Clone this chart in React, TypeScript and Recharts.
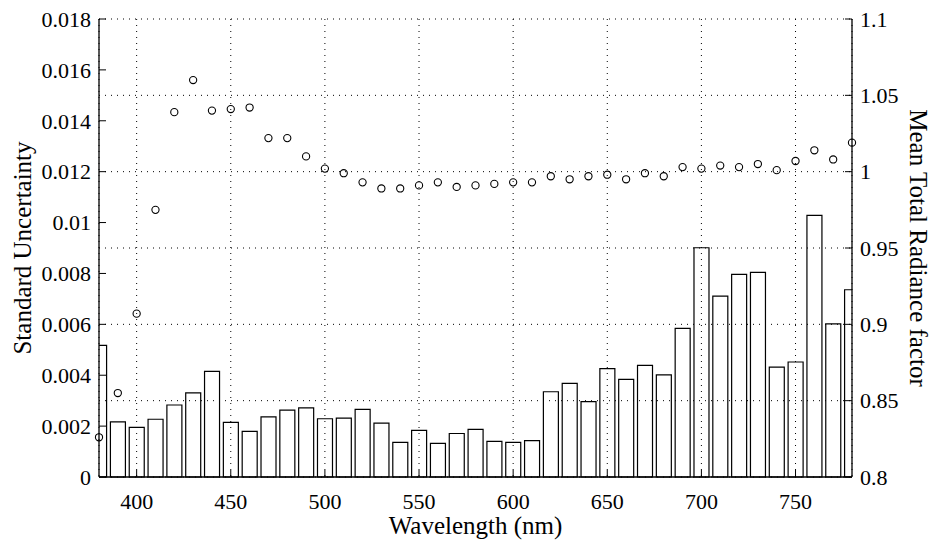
/**
 * Uncertainty chart - standard uncertainty bars + mean total radiance factor
 */

import { Bar, CartesianGrid, ComposedChart, Label, Line, XAxis, YAxis } from 'recharts';

document.body.style.margin = '0';

const wavelengths = [
  380, 390, 400, 410, 420, 430, 440, 450, 460, 470, 480, 490, 500, 510,
  520, 530, 540, 550, 560, 570, 580, 590, 600, 610, 620, 630, 640, 650,
  660, 670, 680, 690, 700, 710, 720, 730, 740, 750, 760, 770, 780,
];

const uncertainty = [
  0.00517, 0.00217, 0.00195, 0.00227, 0.00283, 0.00331, 0.00415, 0.00215,
  0.00179, 0.00236, 0.00263, 0.00272, 0.00229, 0.00231, 0.00266, 0.00212,
  0.00136, 0.00183, 0.00132, 0.00171, 0.00187, 0.0014, 0.00136, 0.00143,
  0.00335, 0.00368, 0.00296, 0.00426, 0.00384, 0.00439, 0.00401, 0.00584,
  0.00901, 0.00711, 0.00796, 0.00804, 0.00432, 0.00452, 0.01028, 0.00602,
  0.00736,
];

const radiance = [
  0.826, 0.855, 0.907, 0.975, 1.039, 1.06, 1.04, 1.041, 1.042, 1.022, 1.022,
  1.01, 1.002, 0.999, 0.993, 0.989, 0.989, 0.991, 0.993, 0.99, 0.991, 0.992,
  0.993, 0.993, 0.997, 0.995, 0.997, 0.998, 0.995, 0.999, 0.997, 1.003,
  1.002, 1.004, 1.003, 1.005, 1.001, 1.007, 1.014, 1.008, 1.019,
];

const xTicks = [400, 450, 500, 550, 600, 650, 700, 750];
const leftTicks = [0, 0.002, 0.004, 0.006, 0.008, 0.01, 0.012, 0.014, 0.016, 0.018];
const rightTicks = [0.8, 0.85, 0.9, 0.95, 1, 1.05, 1.1];

const data = wavelengths.map((wl, i) => ({
  wl,
  uncertainty: uncertainty[i],
  radiance: radiance[i],
}));

const FONT = '"Liberation Serif", "Times New Roman", serif';
const tickStyle = { fill: '#000', fontSize: 22, fontFamily: FONT };
const labelStyle = { fill: '#000', fontSize: 25, fontFamily: FONT };
const axisLine = { stroke: '#000', strokeWidth: 1.3 };
const noLabel = () => '';

export default function App() {
  return (
    <div style={{ width: 931, height: 541, background: '#fff' }}>
      <ComposedChart
        width={931}
        height={541}
        data={data}
        margin={{ top: 19, right: 0, bottom: 0, left: 0 }}
      >
        <CartesianGrid
          xAxisId="main"
          yAxisId="right"
          stroke="#000"
          strokeDasharray="1 5"
        />
        <XAxis
          xAxisId="main"
          dataKey="wl"
          type="number"
          domain={[380, 780]}
          ticks={xTicks}
          allowDataOverflow
          height={64}
          tickSize={-7}
          tickMargin={23}
          tick={tickStyle}
          axisLine={axisLine}
          tickLine={{ stroke: '#000' }}
        >
          <Label
            value="Wavelength (nm)"
            position="insideBottom"
            offset={7}
            style={labelStyle}
          />
        </XAxis>
        <XAxis
          xAxisId="top"
          dataKey="wl"
          type="number"
          orientation="top"
          domain={[380, 780]}
          ticks={xTicks}
          height={0}
          tickSize={-7}
          tickFormatter={noLabel}
          axisLine={axisLine}
          tickLine={{ stroke: '#000' }}
        />
        <XAxis
          xAxisId="dots"
          dataKey="wl"
          type="number"
          domain={[380, 780]}
          height={0}
          hide
        />
        <YAxis
          yAxisId="rightMirror"
          orientation="left"
          domain={[0.8, 1.1]}
          ticks={rightTicks}
          width={0}
          tickSize={-7}
          tickFormatter={noLabel}
          axisLine={false}
          tickLine={{ stroke: '#000' }}
        />
        <YAxis
          yAxisId="left"
          orientation="left"
          domain={[0, 0.018]}
          ticks={leftTicks}
          width={99}
          tickSize={-7}
          tickMargin={15}
          tick={tickStyle}
          tickFormatter={(v: number) => String(v)}
          axisLine={axisLine}
          tickLine={{ stroke: '#000' }}
        >
          <Label
            value="Standard Uncertainty"
            position="insideLeft"
            angle={-90}
            offset={22}
            style={{ ...labelStyle, textAnchor: 'middle' }}
          />
        </YAxis>
        <YAxis
          yAxisId="leftMirror"
          orientation="right"
          domain={[0, 0.018]}
          ticks={leftTicks}
          width={0}
          tickSize={-7}
          tickFormatter={noLabel}
          axisLine={false}
          tickLine={{ stroke: '#000' }}
        />
        <YAxis
          yAxisId="right"
          orientation="right"
          domain={[0.8, 1.1]}
          ticks={rightTicks}
          width={79}
          tickSize={-7}
          tickMargin={15}
          tick={tickStyle}
          tickFormatter={(v: number) => String(v)}
          axisLine={axisLine}
          tickLine={{ stroke: '#000' }}
        >
          <Label
            value="Mean Total Radiance factor"
            position="insideRight"
            angle={90}
            offset={12}
            style={{ ...labelStyle, textAnchor: 'middle' }}
          />
        </YAxis>
        <Bar
          xAxisId="main"
          yAxisId="left"
          dataKey="uncertainty"
          barSize={15}
          fill="none"
          stroke="#000"
          strokeWidth={1.2}
          isAnimationActive={false}
        />
        <Line
          xAxisId="dots"
          yAxisId="right"
          dataKey="radiance"
          stroke="none"
          dot={{ r: 3.6, fill: 'none', stroke: '#000', strokeWidth: 1.1 }}
          activeDot={false}
          isAnimationActive={false}
        />
      </ComposedChart>
    </div>
  );
}
